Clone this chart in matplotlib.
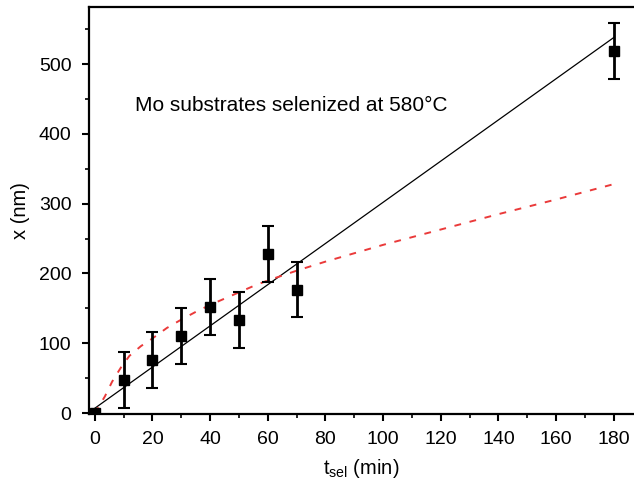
import matplotlib
matplotlib.use("Agg")
from matplotlib import pyplot as plt
from matplotlib.ticker import MultipleLocator

plt.rcParams['font.family'] = ['Liberation Sans', 'DejaVu Sans']

# measured thickness vs selenization time
t_sel = [0, 10, 20, 30, 40, 50, 60, 70, 180]
x_nm = [0, 48, 76, 110, 152, 133, 228, 177, 519]
x_err = [0, 40, 40, 40, 40, 40, 40, 40, 40]

# linear fit
fit_t = [0, 180]
fit_x = [7, 538]

# dashed model curve
model_t = [0, 3.5, 6, 9, 12, 16, 20, 25, 30, 35, 40, 45, 50, 55, 60, 70, 80, 100, 120, 140, 160, 180]
model_x = [0, 24, 45, 65, 82, 96, 107, 122, 134, 145, 155, 164, 173, 182, 190, 204, 217, 241, 263, 285, 306, 328]

fig = plt.figure(figsize=(6.34, 4.84), dpi=100)
ax = fig.add_axes([0.140, 0.145, 0.860, 0.841])

ax.plot(fit_t, fit_x, color='black', lw=0.9, zorder=2)
ax.plot(model_t, model_x, color='#ea3a3a', lw=1.4, dashes=(3.5, 4.5), zorder=3)
ax.errorbar(t_sel, x_nm, yerr=x_err, fmt='s', color='black', ms=7.5,
            elinewidth=2, capsize=4, capthick=1.5, zorder=4)

ax.text(14, 440, 'Mo substrates selenized at 580°C', fontsize=15, va='center')

ax.set_xlim(-2.1, 187)
ax.set_ylim(-1, 582)
ax.xaxis.set_major_locator(MultipleLocator(20))
ax.xaxis.set_minor_locator(MultipleLocator(10))
ax.yaxis.set_major_locator(MultipleLocator(100))
ax.yaxis.set_minor_locator(MultipleLocator(50))

ax.spines['right'].set_visible(False)
for s in ['left', 'bottom', 'top']:
    ax.spines[s].set_linewidth(1.6)
ax.tick_params(which='major', direction='out', length=5, width=1.5, labelsize=14, pad=7.5)
ax.tick_params(which='minor', direction='out', length=3, width=1.2)
ax.tick_params(top=False, right=False)

ax.set_xlabel('t$_{\\mathregular{sel}}$ (min)', fontsize=14.5, labelpad=6)
ax.set_ylabel('x (nm)', fontsize=14.5, labelpad=6)

fig.savefig('out.png', dpi=100)
